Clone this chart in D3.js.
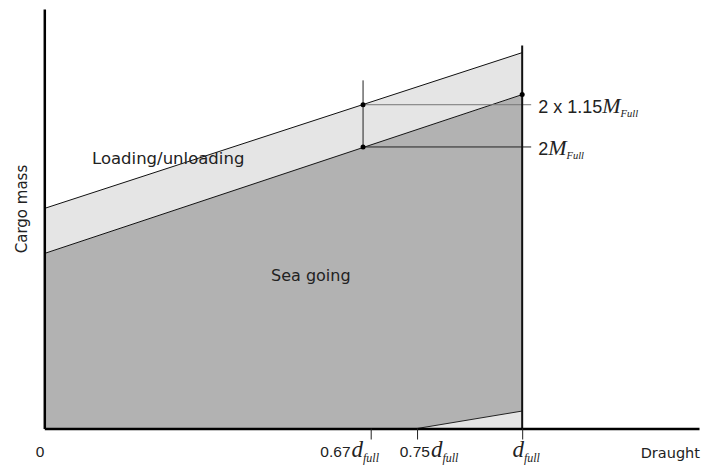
<!DOCTYPE html>
<html>
<head>
<meta charset="utf-8">
<script src="https://cdn.jsdelivr.net/npm/d3@7"></script>
<style>
  html, body { margin: 0; padding: 0; background: #fff; }
  svg { display: block; }
  .num { font-family: "Liberation Sans", Arial, sans-serif; fill: #222; }
  .word { font-family: "DejaVu Sans", sans-serif; fill: #222; }
  .sym { font-family: "Liberation Serif", serif; font-style: italic; }
</style>
</head>
<body>
<svg id="chart" width="707" height="467"></svg>
<script>
// ---- data (draught as fraction of d_full, cargo mass in units of M_full) ----
const draught = [0, 1];
const loadingTop = [1.563, 2.670];   // upper limit (loading/unloading)
const seaTop = [1.243, 2.372];       // upper limit (sea going)
const lowDraught = [0.78, 1];        // lower-right light wedge
const lowTop = [0, 0.124];
const tickValues = [0.683, 0.78, 1];
const tickCoeffs = ["0.67", "0.75", ""];
const markDraught = 0.667;
const markLevels = [2.3, 2.0];
const markLabels = ["2 x 1.15", "2"];
const markTop = 2.473;
const fullLineTop = 2.72;

// layout constants (not data)
const tickLabelShift = [-21.5, 11.5, 2.5];
const markLineColors = ["#777", "#222"];

const svg = d3.select("#chart");
const x = d3.scaleLinear().domain([0, 1.37]).range([44.3, 699]);
const y = d3.scaleLinear().domain([0, 2.98]).range([428.5, 9]);

const pts = draught.map((d, i) => ({d, lo: seaTop[i], hi: loadingTop[i]}));

// dark sea-going area
svg.append("path")
  .attr("fill", "#b2b2b2")
  .attr("d", d3.area().x(p => x(p.d)).y0(y(0)).y1(p => y(p.lo))(pts));
// light loading band
svg.append("path")
  .attr("fill", "#e5e5e5")
  .attr("d", d3.area().x(p => x(p.d)).y0(p => y(p.lo)).y1(p => y(p.hi))(pts));
// bottom light wedge
const wedge = lowDraught.map((d, i) => ({d, t: lowTop[i]}));
svg.append("path")
  .attr("fill", "#e5e5e5")
  .attr("d", d3.area().x(p => x(p.d)).y0(y(0)).y1(p => y(p.t))(wedge));
svg.append("path")
  .attr("fill", "none").attr("stroke", "#222").attr("stroke-width", 1)
  .attr("d", d3.line().x(p => x(p.d)).y(p => y(p.t))(wedge));

// boundary lines
const line = d3.line().x(p => x(p.d));
svg.append("path").attr("fill", "none").attr("stroke", "#111").attr("stroke-width", 1)
  .attr("d", line.y(p => y(p.hi))(pts));
svg.append("path").attr("fill", "none").attr("stroke", "#111").attr("stroke-width", 1)
  .attr("d", line.y(p => y(p.lo))(pts));

// horizontal level lines
markLevels.forEach((lv, i) => {
  svg.append("line")
    .attr("x1", x(markDraught)).attr("x2", x(1) + 9)
    .attr("y1", y(lv)).attr("y2", y(lv))
    .attr("stroke", markLineColors[i]).attr("stroke-width", 1);
});
// vertical marker at 0.67 d_full
svg.append("line")
  .attr("x1", x(markDraught)).attr("x2", x(markDraught))
  .attr("y1", y(markTop)).attr("y2", y(markLevels[1]))
  .attr("stroke", "#222").attr("stroke-width", 1);
// full draught vertical
svg.append("line")
  .attr("x1", x(1)).attr("x2", x(1))
  .attr("y1", y(fullLineTop)).attr("y2", y(0))
  .attr("stroke", "#111").attr("stroke-width", 2);

// dots
const dots = markLevels.map(lv => ({d: markDraught, v: lv})).concat([{d: 1, v: seaTop[1]}]);
svg.selectAll("circle.dot").data(dots).join("circle")
  .attr("cx", p => x(p.d)).attr("cy", p => y(p.v)).attr("r", 2.5).attr("fill", "#000");

// axes
const xAxis = d3.axisBottom(x).tickValues(tickValues).tickSize(11).tickSizeOuter(0).tickFormat("");
const gx = svg.append("g").attr("transform", `translate(0,${y(0)})`).call(xAxis);
gx.select(".domain").attr("stroke", "#000").attr("stroke-width", 2.5);
gx.selectAll(".tick line").attr("stroke", "#222").attr("stroke-width", 1);

const yAxis = d3.axisLeft(y).tickValues([]).tickSizeOuter(0);
const gy = svg.append("g").attr("transform", `translate(${x(0)},0)`).call(yAxis);
gy.select(".domain").attr("stroke", "#000").attr("stroke-width", 2.5);

// x tick labels
gx.selectAll(".tick").each(function(v, i) {
  const t = d3.select(this).append("text")
    .attr("x", tickLabelShift[i])
    .attr("y", 28.5).attr("text-anchor", "middle").attr("fill", "#222")
    .attr("class", "num").style("font-size", "15.5px");
  t.append("tspan").text(tickCoeffs[i]);
  t.append("tspan").attr("class", "sym").style("font-size", "23px").attr("dx", 1).text("d");
  t.append("tspan").attr("class", "sym").style("font-size", "12px").attr("dy", 5).text("full");
});
svg.append("text").attr("class", "num").style("font-size", "15.5px")
  .attr("x", x(0)).attr("y", 457).attr("text-anchor", "end").text("0");
svg.append("text").attr("class", "word").style("font-size", "14.5px")
  .attr("x", 700).attr("y", 458).attr("text-anchor", "end").text("Draught");

// y axis title
svg.append("text").attr("class", "word").style("font-size", "15px")
  .attr("transform", `translate(27,209) rotate(-90)`)
  .attr("text-anchor", "middle").text("Cargo mass");

// right labels
markLevels.forEach((lv, i) => {
  const t = svg.append("text").attr("class", "num").style("font-size", "18px")
    .attr("x", x(1) + 16).attr("y", y(lv) + 8.5);
  t.append("tspan").text(markLabels[i]);
  t.append("tspan").attr("class", "sym").style("font-size", "22px").text("M");
  t.append("tspan").attr("class", "sym").style("font-size", "10.5px").attr("dy", 4).text("Full");
});

// region labels
svg.append("text").attr("class", "word").style("font-size", "16.5px")
  .attr("x", 92).attr("y", 164).text("Loading/unloading");
svg.append("text").attr("class", "word").style("font-size", "16px")
  .attr("x", 271).attr("y", 281).text("Sea going");
</script>
</body>
</html>
